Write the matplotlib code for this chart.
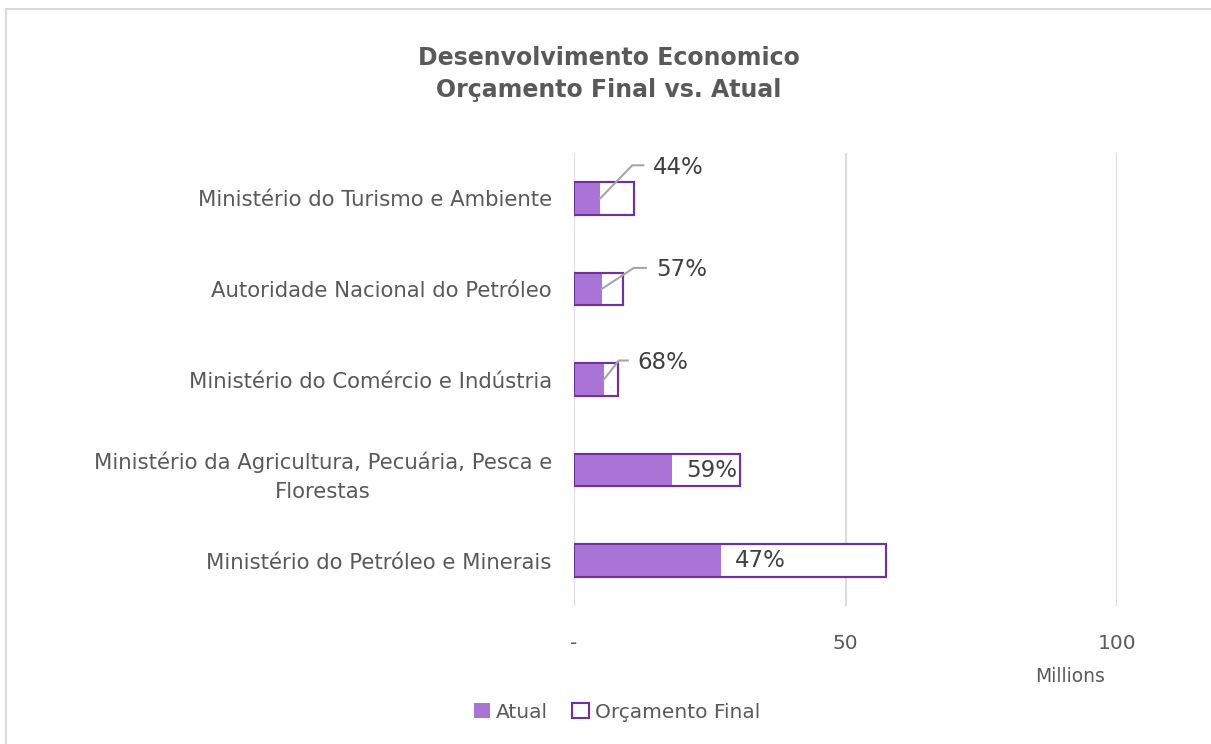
import numpy as np
import matplotlib.pyplot as plt
import matplotlib.transforms as mtransforms
from matplotlib.patches import Patch, Rectangle

categories = ['Ministério do Petróleo e Minerais',
              'Ministério da Agricultura, Pecuária, Pesca e\nFlorestas',
              'Ministério do Comércio e Indústria',
              'Autoridade Nacional do Petróleo',
              'Ministério do Turismo e Ambiente']
orcamento_final = [57.5, 30.6, 8.1, 9.0, 11.0]   # millions
atual = [27.0, 18.05, 5.5, 5.13, 4.84]            # millions
pct_labels = ['47%', '59%', '68%', '57%', '44%']
xticks = [0, 50, 100]
xtick_labels = ['-', '50', '100']

# leader lines for labels outside the bars: (dx, dy, horizontal tail) in pixels
leader = {2: (15, 19, 9), 3: (32, 21, 12), 4: (32, 33, 11)}

gray = '#595959'
purple = '#A974D6'
edge = '#7030A0'

fig = plt.figure(figsize=(12.11, 7.44), dpi=100)
fig.add_artist(Rectangle((6 / 1211, -0.1), 1.2, 1 - 9 / 744 + 0.1, transform=fig.transFigure,
                         fill=False, ec='#D9D9D9', lw=1.5))
ax = fig.add_axes([574 / 1211, 1 - 606 / 744, (1117 - 574) / 1211, (606 - 153) / 744])

y = np.arange(len(categories))
h = 0.36
ax.barh(y, orcamento_final, height=h, color='white', edgecolor=edge, linewidth=1.5, zorder=2)
ax.barh(y, atual, height=h, color=purple, edgecolor='none', zorder=3)
ax.barh(y, orcamento_final, height=h, color='none', edgecolor=edge, linewidth=1.5, zorder=4)

ax.set_xlim(0, 100)
ax.set_ylim(-0.5, len(categories) - 0.5)
ax.set_xticks(xticks)
ax.set_xticklabels(xtick_labels)
ax.set_yticks(y)
ax.set_yticklabels(categories, multialignment='center', linespacing=1.55)
ax.tick_params(length=0, colors=gray, labelsize=15.3)
ax.tick_params(axis='x', pad=20, labelsize=14.5)
ax.tick_params(axis='y', pad=16)
for s in ax.spines.values():
    s.set_visible(False)
ax.grid(axis='x', color='#D9D9D9', lw=1.3, zorder=0)
ax.set_axisbelow(True)

for i in range(len(categories)):
    if i in leader:
        dx, dy, tail = leader[i]
        tr = ax.transData
        p0 = tr.transform((atual[i], y[i]))
        pts = np.array([p0, p0 + [dx, dy], p0 + [dx + tail, dy]])
        pts_d = tr.inverted().transform(pts)
        ax.plot(pts_d[:, 0], pts_d[:, 1], color='#A6A6A6', lw=1.5, zorder=5)
        off = mtransforms.offset_copy(tr, fig=fig, x=(dx + tail + 10) * 0.72, y=(dy - 2) * 0.72,
                                      units='points')
    else:
        off = mtransforms.offset_copy(ax.transData, fig=fig, x=14 * 0.72, y=0, units='points')
    ax.text(atual[i], y[i], pct_labels[i], transform=off, ha='left', va='center',
            fontsize=16.5, color='#404040', zorder=6)

fig.text(1070 / 1211, 1 - 676 / 744, 'Millions', ha='center', va='center', fontsize=13.5, color=gray)
fig.text(609 / 1211, 1 - 74 / 744, 'Desenvolvimento Economico\nOrçamento Final vs. Atual',
         ha='center', va='center', fontsize=17, fontweight='bold', color=gray, linespacing=1.4)

handles = [Patch(facecolor=purple, edgecolor='none', label='Atual'),
           Patch(facecolor='white', edgecolor=edge, linewidth=1.5, label='Orçamento Final')]
leg = fig.legend(handles=handles, loc='center', bbox_to_anchor=(617 / 1211, 1 - 712 / 744), ncol=2,
                 frameon=False, fontsize=14.5, handlelength=0.8, handleheight=0.8,
                 handletextpad=0.3, columnspacing=1.2)
for t in leg.get_texts():
    t.set_color(gray)

plt.savefig('out.png', dpi=100)
